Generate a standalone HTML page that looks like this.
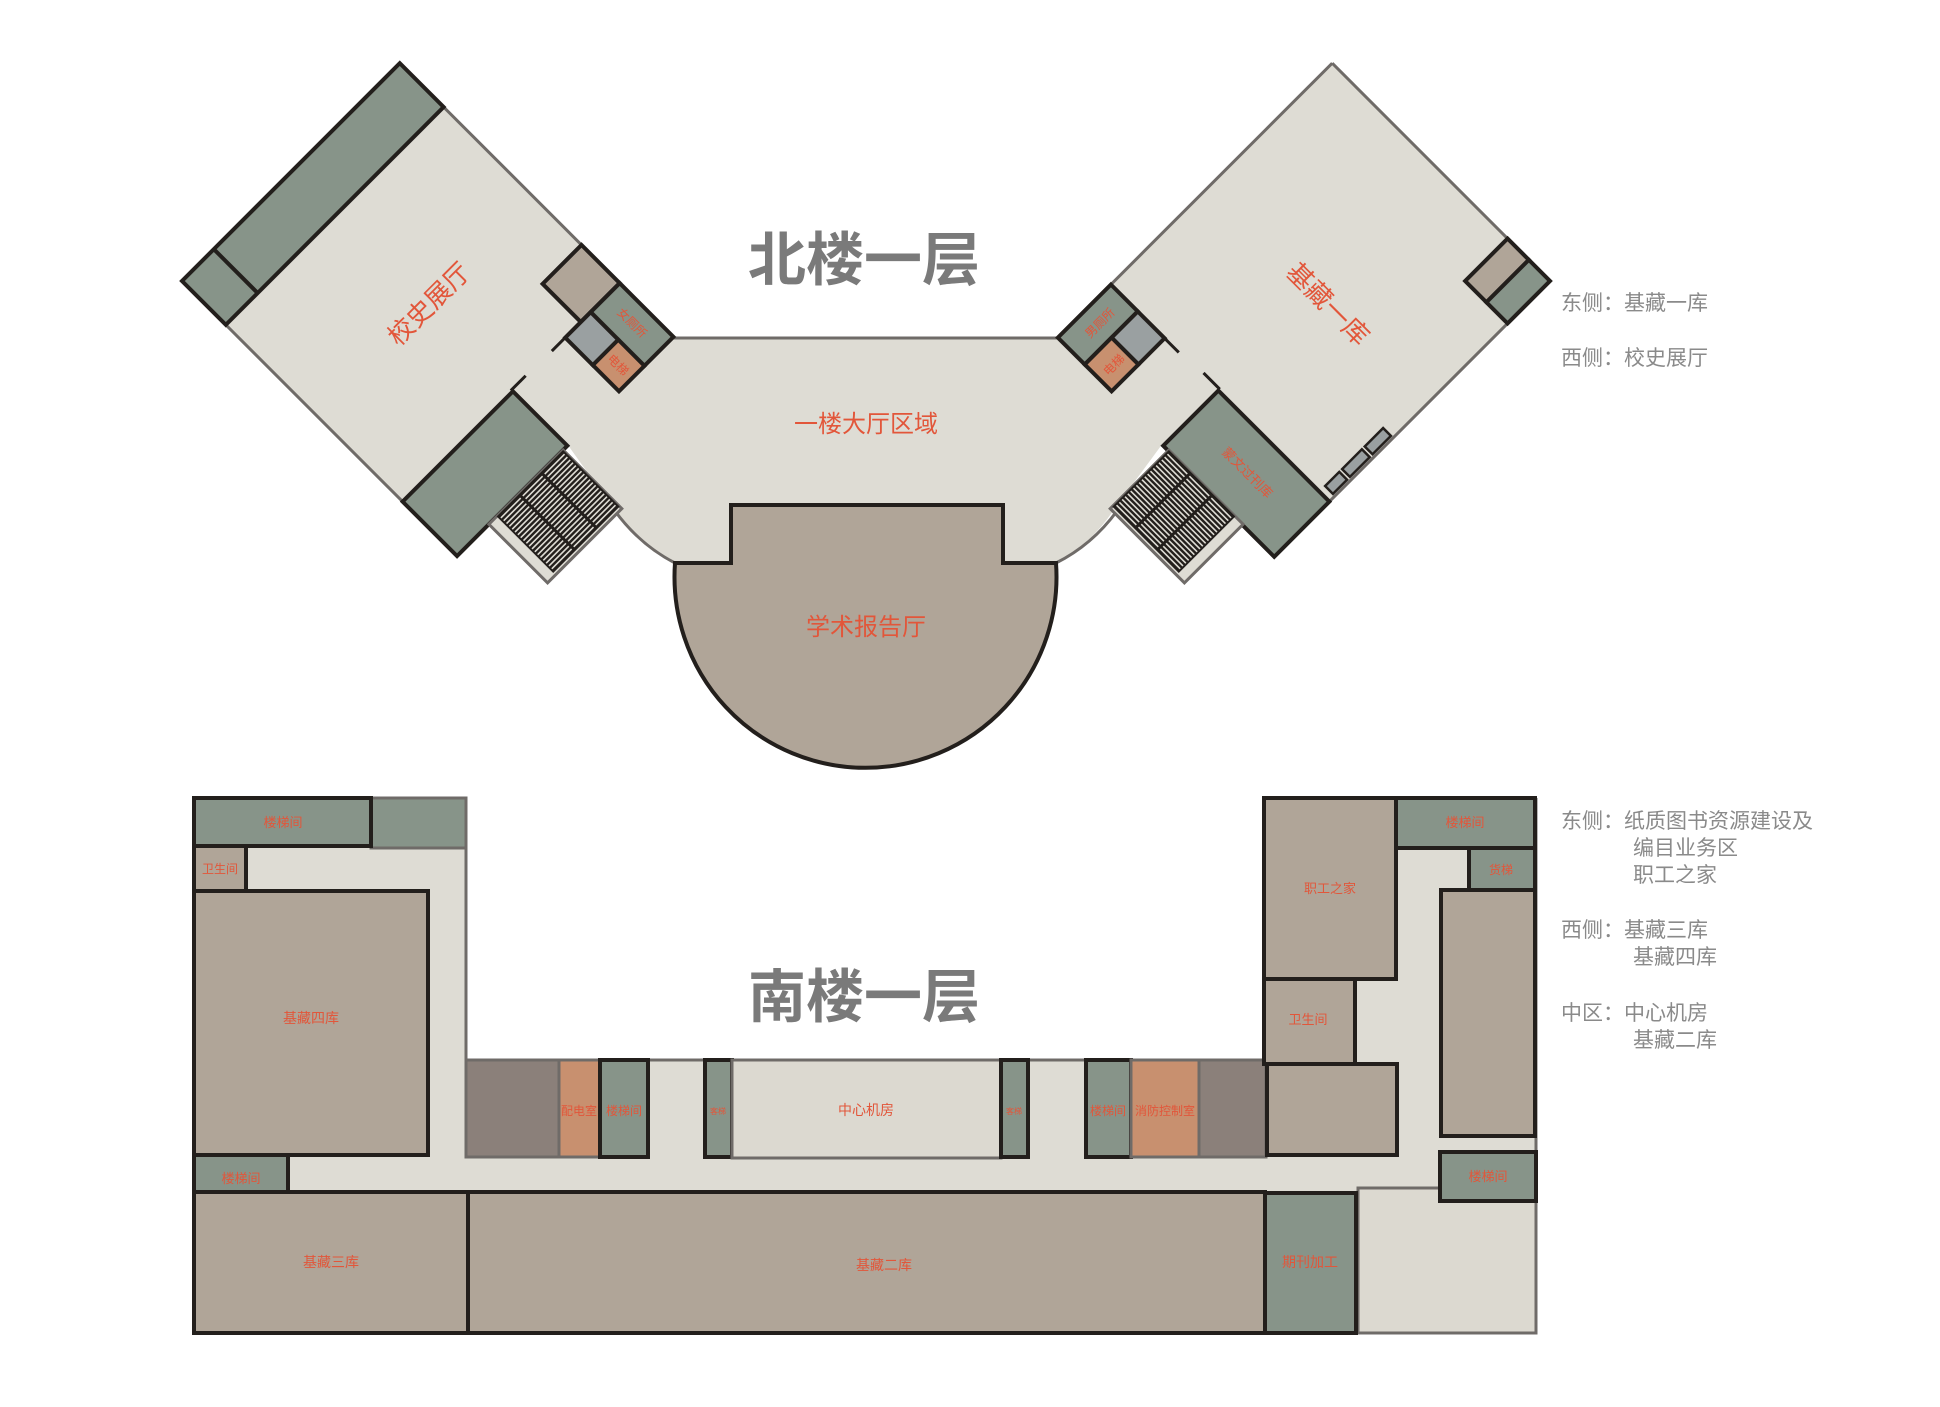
<!DOCTYPE html>
<html><head><meta charset="utf-8"><style>
html,body{margin:0;padding:0;background:#fff;}
svg{display:block;}
text{font-family:"Liberation Sans","Noto Sans CJK SC",sans-serif;}
</style></head><body>
<svg width="1940" height="1407" viewBox="0 0 1940 1407" xmlns="http://www.w3.org/2000/svg">
<defs>
<g id="stairs">
  <rect x="45" y="389" width="105" height="83" fill="#dedcd4" stroke="#6f6b68" stroke-width="3"/>
  <rect x="56" y="389" width="94" height="80" fill="#231f1c"/>
  <g stroke="#dedcd4" stroke-width="1.6" stroke-dasharray="28 3">
    <line x1="58" y1="393" x2="148" y2="393"/><line x1="58" y1="397" x2="148" y2="397"/>
    <line x1="58" y1="401" x2="148" y2="401"/><line x1="58" y1="405" x2="148" y2="405"/>
    <line x1="58" y1="409" x2="148" y2="409"/><line x1="58" y1="413" x2="148" y2="413"/>
    <line x1="58" y1="417" x2="148" y2="417"/><line x1="58" y1="421" x2="148" y2="421"/>
    <line x1="58" y1="425" x2="148" y2="425"/><line x1="58" y1="429" x2="148" y2="429"/>
    <line x1="58" y1="433" x2="148" y2="433"/><line x1="58" y1="437" x2="148" y2="437"/>
    <line x1="58" y1="441" x2="148" y2="441"/><line x1="58" y1="445" x2="148" y2="445"/>
    <line x1="58" y1="449" x2="148" y2="449"/><line x1="58" y1="453" x2="148" y2="453"/>
    <line x1="58" y1="457" x2="148" y2="457"/><line x1="58" y1="461" x2="148" y2="461"/>
    <line x1="58" y1="465" x2="148" y2="465"/>
  </g>
</g>
</defs>

<g transform="matrix(0.7071 -0.7071 0.7071 0.7071 182 281)">
  <rect x="0" y="0" width="308" height="389" fill="#dedcd4"/>
</g>
<g transform="matrix(-0.7071 -0.7071 -0.7071 0.7071 1550 281)">
  <rect x="0" y="0" width="308" height="389" fill="#dedcd4"/>
</g>

<path d="M673 338 L1058 338 L1180 420 L1113 511 Q1090 545 1056 563 L1003 563 L1003 505 L731 505 L731 563 L675 563 Q640 545 615 511 L550 420 Z" fill="#dedcd4"/>
<line x1="673" y1="338" x2="1058" y2="338" stroke="#6f6b68" stroke-width="3"/>
<path d="M615 511 Q640 545 675 563" fill="none" stroke="#6f6b68" stroke-width="3"/>
<path d="M1117 511 Q1092 545 1056 563" fill="none" stroke="#6f6b68" stroke-width="3"/>

<path d="M675 563 L731 563 L731 505 L1003 505 L1003 563 L1056 563 A191 191 0 1 1 675 563 Z" fill="#b0a598" stroke="#231f1c" stroke-width="4"/>

<g transform="matrix(0.7071 -0.7071 0.7071 0.7071 182 281)">
  <line x1="0" y1="0" x2="0" y2="312" stroke="#6f6b68" stroke-width="3"/>
  <line x1="308" y1="0" x2="308" y2="257" stroke="#6f6b68" stroke-width="3"/>
  <rect x="0" y="0" width="308" height="62" fill="#879489" stroke="#231f1c" stroke-width="4"/>
  <line x1="45" y1="0" x2="45" y2="62" stroke="#231f1c" stroke-width="4"/>
  <rect x="0" y="312" width="156" height="77" fill="#879489" stroke="#231f1c" stroke-width="4"/>
  <line x1="155" y1="310" x2="176" y2="310" stroke="#231f1c" stroke-width="3"/>
  <use href="#stairs"/>
  <rect x="253" y="257" width="55" height="54" fill="#b0a598" stroke="#231f1c" stroke-width="4"/>
  <rect x="267" y="311" width="41" height="76" fill="#879489" stroke="#231f1c" stroke-width="4"/>
  <rect x="231" y="311" width="36" height="39" fill="#9aa0a1" stroke="#231f1c" stroke-width="4"/>
  <rect x="231" y="350" width="36" height="37" fill="#c8906f" stroke="#231f1c" stroke-width="4"/>
  <line x1="212" y1="311" x2="231" y2="311" stroke="#231f1c" stroke-width="3"/>
</g>

<g transform="matrix(-0.7071 -0.7071 -0.7071 0.7071 1550 281)">
  <line x1="0" y1="0" x2="308" y2="0" stroke="#6f6b68" stroke-width="3"/>
  <line x1="0" y1="0" x2="0" y2="312" stroke="#6f6b68" stroke-width="3"/>
  <line x1="308" y1="0" x2="308" y2="313" stroke="#6f6b68" stroke-width="3"/>
  <rect x="0" y="0" width="30" height="60" fill="#879489" stroke="#231f1c" stroke-width="4"/>
  <rect x="30" y="0" width="30" height="60" fill="#b0a598" stroke="#231f1c" stroke-width="4"/>
  <rect x="3" y="222" width="11" height="26" fill="#9aa0a1" stroke="#231f1c" stroke-width="2.5"/>
  <rect x="3" y="252" width="11" height="28" fill="#9aa0a1" stroke="#231f1c" stroke-width="2.5"/>
  <rect x="3" y="284" width="11" height="20" fill="#9aa0a1" stroke="#231f1c" stroke-width="2.5"/>
  <rect x="0" y="312" width="157" height="78" fill="#879489" stroke="#231f1c" stroke-width="4"/>
  <line x1="157" y1="310" x2="180" y2="310" stroke="#231f1c" stroke-width="3"/>
  <use href="#stairs"/>
  <rect x="270" y="313" width="38" height="75" fill="#879489" stroke="#231f1c" stroke-width="4"/>
  <rect x="232" y="313" width="38" height="37" fill="#9aa0a1" stroke="#231f1c" stroke-width="4"/>
  <rect x="232" y="350" width="38" height="38" fill="#c8906f" stroke="#231f1c" stroke-width="4"/>
  <line x1="212" y1="313" x2="232" y2="313" stroke="#231f1c" stroke-width="3"/>
</g>

<g fill="#e2563a">
  <text x="429" y="313" font-size="26" text-anchor="middle" transform="rotate(-45 429 304)">校史展厅</text>
  <text x="1328" y="313" font-size="26" text-anchor="middle" transform="rotate(45 1328 304)">基藏一库</text>
  <text x="866" y="432" font-size="24" text-anchor="middle">一楼大厅区域</text>
  <text x="866" y="635" font-size="24" text-anchor="middle">学术报告厅</text>
  <text x="632" y="327" font-size="12" text-anchor="middle" transform="rotate(45 632 323)">女厕所</text>
  <text x="618" y="369" font-size="12" text-anchor="middle" transform="rotate(45 618 365)">电梯</text>
  <text x="1100" y="327" font-size="12" text-anchor="middle" transform="rotate(-45 1100 323)">男厕所</text>
  <text x="1114" y="369" font-size="12" text-anchor="middle" transform="rotate(-45 1114 365)">电梯</text>
  <text x="1247" y="477" font-size="13" text-anchor="middle" transform="rotate(45 1247 473)">蒙文过刊库</text>
</g>

<text x="864" y="280" font-size="58" font-weight="bold" fill="#7a7a7a" text-anchor="middle">北楼一层</text>
<text x="864" y="1017" font-size="58" font-weight="bold" fill="#7a7a7a" text-anchor="middle">南楼一层</text>

<g fill="#8a8a8a" font-size="21">
  <text x="1561" y="310">东侧：基藏一库</text>
  <text x="1561" y="365">西侧：校史展厅</text>
  <text x="1561" y="828">东侧：纸质图书资源建设及</text>
  <text x="1633" y="855">编目业务区</text>
  <text x="1633" y="882">职工之家</text>
  <text x="1561" y="937">西侧：基藏三库</text>
  <text x="1633" y="964">基藏四库</text>
  <text x="1561" y="1020">中区：中心机房</text>
  <text x="1633" y="1047">基藏二库</text>
</g>

<rect x="194" y="798" width="272" height="535" fill="#dedcd4"/>
<rect x="1264" y="798" width="272" height="535" fill="#dedcd4"/>
<rect x="466" y="1060" width="798" height="132" fill="#dedcd4"/>
<line x1="466" y1="798" x2="466" y2="1060" stroke="#6f6b68" stroke-width="3"/>
<line x1="466" y1="1060" x2="1264" y2="1060" stroke="#6f6b68" stroke-width="3"/>
<line x1="1536" y1="798" x2="1536" y2="1333" stroke="#6f6b68" stroke-width="3"/>
<line x1="194" y1="798" x2="194" y2="1333" stroke="#231f1c" stroke-width="3"/>

<rect x="371" y="798" width="95" height="50" fill="#879489" stroke="#6f6b68" stroke-width="3"/>
<rect x="194" y="798" width="177" height="48" fill="#879489" stroke="#231f1c" stroke-width="4"/>
<rect x="194" y="846" width="52" height="45" fill="#b0a598" stroke="#231f1c" stroke-width="4"/>
<rect x="194" y="891" width="234" height="264" fill="#b0a598" stroke="#231f1c" stroke-width="4"/>
<rect x="194" y="1155" width="94" height="46" fill="#879489" stroke="#231f1c" stroke-width="4"/>
<rect x="194" y="1192" width="274" height="141" fill="#b0a598" stroke="#231f1c" stroke-width="4"/>
<rect x="468" y="1192" width="797" height="141" fill="#b0a598" stroke="#231f1c" stroke-width="4"/>

<rect x="466" y="1060" width="93" height="97" fill="#8b807a" stroke="#6f6b68" stroke-width="3"/>
<rect x="559" y="1060" width="41" height="97" fill="#c8906f" stroke="#6f6b68" stroke-width="3"/>
<rect x="600" y="1060" width="48" height="97" fill="#879489" stroke="#231f1c" stroke-width="4"/>
<rect x="705" y="1060" width="27" height="97" fill="#879489" stroke="#231f1c" stroke-width="4"/>
<rect x="732" y="1060" width="269" height="98" fill="#dcd9d0" stroke="#6f6b68" stroke-width="3"/>
<rect x="1001" y="1060" width="27" height="97" fill="#879489" stroke="#231f1c" stroke-width="4"/>
<rect x="1086" y="1060" width="45" height="97" fill="#879489" stroke="#231f1c" stroke-width="4"/>
<rect x="1131" y="1060" width="68" height="97" fill="#c8906f" stroke="#6f6b68" stroke-width="3"/>
<rect x="1199" y="1060" width="67" height="97" fill="#8b807a" stroke="#6f6b68" stroke-width="3"/>

<rect x="1264" y="798" width="132" height="181" fill="#b0a598" stroke="#231f1c" stroke-width="4"/>
<rect x="1396" y="798" width="139" height="50" fill="#879489" stroke="#231f1c" stroke-width="4"/>
<rect x="1469" y="848" width="66" height="42" fill="#879489" stroke="#231f1c" stroke-width="4"/>
<rect x="1441" y="890" width="94" height="246" fill="#b0a598" stroke="#231f1c" stroke-width="4"/>
<rect x="1264" y="979" width="91" height="85" fill="#b0a598" stroke="#231f1c" stroke-width="4"/>
<rect x="1267" y="1064" width="130" height="91" fill="#b0a598" stroke="#231f1c" stroke-width="4"/>
<rect x="1358" y="1188" width="178" height="145" fill="#dcd9d0" stroke="#6f6b68" stroke-width="3"/>
<rect x="1440" y="1152" width="96" height="49" fill="#879489" stroke="#231f1c" stroke-width="4"/>
<rect x="1265" y="1193" width="91" height="140" fill="#879489" stroke="#231f1c" stroke-width="4"/>

<g fill="#e2563a" text-anchor="middle" font-size="13">
  <text x="283" y="827">楼梯间</text>
  <text x="220" y="873" font-size="12">卫生间</text>
  <text x="311" y="1023" font-size="14">基藏四库</text>
  <text x="241" y="1183">楼梯间</text>
  <text x="331" y="1267" font-size="14">基藏三库</text>
  <text x="884" y="1270" font-size="14">基藏二库</text>
  <text x="1310" y="1267" font-size="14">期刊加工</text>
  <text x="579" y="1115" font-size="12">配电室</text>
  <text x="624" y="1115" font-size="12">楼梯间</text>
  <text x="718" y="1114" font-size="8">客梯</text>
  <text x="866" y="1115" font-size="14">中心机房</text>
  <text x="1014" y="1114" font-size="8">客梯</text>
  <text x="1108" y="1115" font-size="12">楼梯间</text>
  <text x="1165" y="1115" font-size="12">消防控制室</text>
  <text x="1330" y="893">职工之家</text>
  <text x="1308" y="1024">卫生间</text>
  <text x="1465" y="827">楼梯间</text>
  <text x="1501" y="874" font-size="12">货梯</text>
  <text x="1488" y="1181">楼梯间</text>
</g>
</svg>
</body></html>
